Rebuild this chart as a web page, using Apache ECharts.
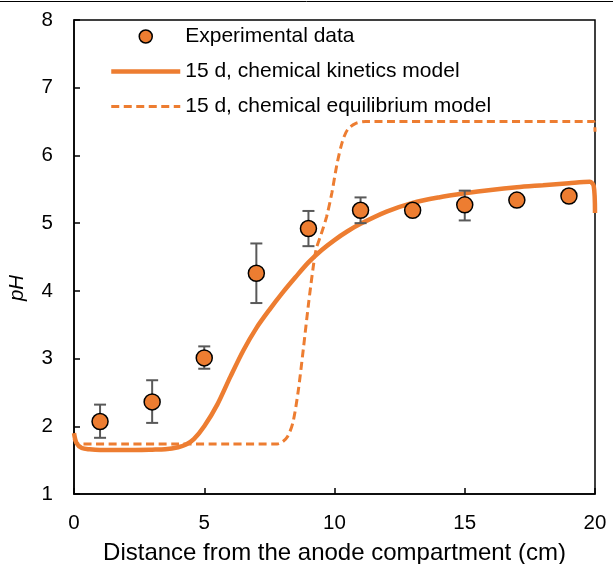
<!DOCTYPE html>
<html>
<head>
<meta charset="utf-8">
<script src="https://cdn.jsdelivr.net/npm/echarts@6/dist/echarts.min.js"></script>
<style>
  html, body { margin: 0; padding: 0; background: #fff; }
  #chart { width: 613px; height: 564px; }
</style>
</head>
<body>
<div id="chart"></div>
<script>
// experimental data: distance (cm), pH, error bar low / high
const expX = [1, 3, 5, 7, 9, 11, 13, 15, 17, 19]
const expPH = [2.07, 2.36, 3.01, 4.26, 4.92, 5.19, 5.19, 5.27, 5.34, 5.40]
const expLow = [1.83, 2.05, 2.85, 3.82, 4.66, 5.00, 5.13, 5.04, 5.28, 5.32]
const expHigh = [2.32, 2.68, 3.18, 4.70, 5.18, 5.38, 5.25, 5.48, 5.40, 5.47]

// chemical kinetics model
const kinX = [0, 0.1, 0.3, 0.6, 1, 2, 3, 3.5, 4, 4.3, 4.6, 5, 5.5, 6, 6.5, 7, 7.5, 8, 8.5, 9, 9.5, 10, 10.5, 11, 12, 13, 14, 15, 16, 17, 18, 19, 19.8, 19.95, 20]
const kinPH = [1.9, 1.75, 1.68, 1.66, 1.65, 1.65, 1.655, 1.66, 1.69, 1.73, 1.81, 2.0, 2.32, 2.73, 3.12, 3.45, 3.72, 3.97, 4.2, 4.42, 4.6, 4.75, 4.88, 4.99, 5.17, 5.3, 5.38, 5.44, 5.49, 5.53, 5.56, 5.59, 5.61, 5.55, 5.15]

// chemical equilibrium model
const eqX = [0, 0.1, 0.3, 2, 4, 6, 7.8, 8.0, 8.2, 8.4, 8.6, 8.8, 9.0, 9.2, 9.3, 9.5, 9.7, 9.9, 10.1, 10.3, 10.5, 10.8, 11.2, 15, 19.95, 20]
const eqPH = [1.82, 1.75, 1.74, 1.74, 1.74, 1.74, 1.74, 1.77, 1.85, 2.05, 2.5, 3.13, 3.8, 4.4, 4.62, 4.85, 5.1, 5.45, 5.88, 6.2, 6.38, 6.47, 6.5, 6.5, 6.5, 6.35]

const xTicks = [0, 5, 10, 15, 20]
const yTicks = [1, 2, 3, 4, 5, 6, 7, 8]

const orange = '#ED7D31'
const font = 'Liberation Sans, Arial, sans-serif'
const eqDash = [8, 4.5]

const chart = echarts.init(document.getElementById('chart'))

chart.setOption({
  animation: false,
  backgroundColor: '#fff',
  textStyle: { fontFamily: font },
  grid: {
    left: 74, right: 18, top: 20, bottom: 70,
    outerBoundsMode: 'none',
    containLabel: false,
    show: true, borderColor: '#000', borderWidth: 1.5,
  },
  graphic: [
    { type: 'line', shape: { x1: 0, y1: 1.5, x2: 613, y2: 1.5 }, style: { stroke: '#000', lineWidth: 1 } },
  ],
  legend: {
    orient: 'vertical',
    left: 104,
    top: 21,
    itemWidth: 69,
    itemHeight: 13,
    itemGap: 14,
    textStyle: { fontSize: 21, color: '#000', fontFamily: font },
    data: [
      { name: 'Experimental data', icon: 'circle', itemStyle: { color: orange, borderColor: '#000', borderWidth: 1.5 } },
      { name: '15 d, chemical kinetics model', itemStyle: { opacity: 0 }, lineStyle: { width: 4.5, type: 'solid' } },
      { name: '15 d, chemical equilibrium model', itemStyle: { opacity: 0 }, lineStyle: { width: 3, type: eqDash } },
    ],
  },
  xAxis: {
    type: 'value', min: xTicks[0], max: xTicks[xTicks.length - 1], interval: 5,
    name: 'Distance from the anode compartment (cm)',
    nameLocation: 'middle', nameGap: 47,
    nameTextStyle: { fontSize: 24, color: '#000' },
    axisLine: { lineStyle: { color: '#000', width: 1.5 } },
    axisTick: { inside: true, length: 6, lineStyle: { color: '#000', width: 1.5 } },
    axisLabel: { fontSize: 20.5, color: '#000', margin: 19 },
    splitLine: { show: false },
  },
  yAxis: {
    type: 'value', min: yTicks[0], max: yTicks[yTicks.length - 1], interval: 1,
    name: 'pH',
    nameLocation: 'middle', nameGap: 47,
    nameTextStyle: { fontSize: 20.5, color: '#000', fontStyle: 'italic', padding: [0, 62, 0, 0] },
    axisLine: { show: true, lineStyle: { color: '#000', width: 1.5 } },
    axisTick: { show: true, inside: true, length: 6, lineStyle: { color: '#000', width: 1.5 } },
    axisLabel: { fontSize: 20.5, color: '#000', margin: 21 },
    splitLine: { show: false },
  },
  series: [
    {
      name: 'error',
      type: 'custom',
      z: 3,
      data: expX.map((x, i) => [x, expLow[i], expHigh[i]]),
      renderItem(params, api) {
        const lo = api.coord([api.value(0), api.value(1)])
        const hi = api.coord([api.value(0), api.value(2)])
        const w = 6
        const style = { stroke: '#595959', lineWidth: 2 }
        return {
          type: 'group',
          children: [
            { type: 'line', shape: { x1: lo[0], y1: lo[1], x2: hi[0], y2: hi[1] }, style },
            { type: 'line', shape: { x1: lo[0] - w, y1: lo[1], x2: lo[0] + w, y2: lo[1] }, style },
            { type: 'line', shape: { x1: hi[0] - w, y1: hi[1], x2: hi[0] + w, y2: hi[1] }, style },
          ],
        }
      },
    },
    {
      name: '15 d, chemical kinetics model',
      type: 'line',
      z: 2,
      data: kinX.map((x, i) => [x, kinPH[i]]),
      smooth: 0.3,
      symbol: 'none',
      lineStyle: { color: orange, width: 4.5 },
      itemStyle: { color: orange },
    },
    {
      name: '15 d, chemical equilibrium model',
      type: 'line',
      z: 2,
      data: eqX.map((x, i) => [x, eqPH[i]]),
      smooth: 0.3,
      symbol: 'none',
      lineStyle: { color: orange, width: 3, type: eqDash },
      itemStyle: { color: orange },
    },
    {
      name: 'Experimental data',
      type: 'scatter',
      z: 5,
      data: expX.map((x, i) => [x, expPH[i]]),
      symbolSize: 16,
      itemStyle: { color: orange, borderColor: '#000', borderWidth: 1.5, opacity: 1 },
    },
  ],
})
</script>
</body>
</html>
